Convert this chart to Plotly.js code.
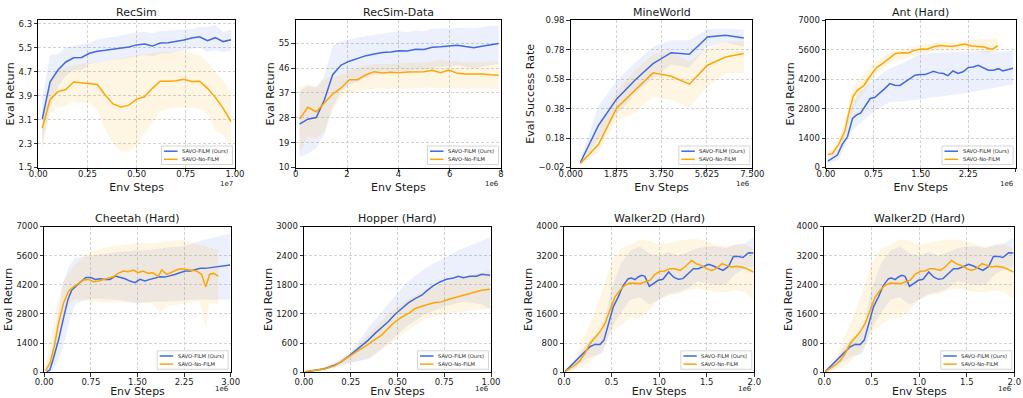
<!DOCTYPE html>
<html><head><meta charset="utf-8">
<script src="https://cdn.plot.ly/plotly-3.0.1.min.js"></script>
<style>html,body{margin:0;padding:0;background:#fff;overflow:hidden}#chart{width:1023px;height:398px}</style>
</head><body><div id="chart"></div>
<script>
// ---------------- DATA (x in units shown on the axis, offset label 1e7 / 1e6) ----------------
const seriesNames = ['SAVO-FILM (Ours)', 'SAVO-No-FILM'];

// RecSim (x ×1e7)
const rsX        = [0.02,0.06,0.10,0.14,0.18,0.22,0.26,0.30,0.34,0.38,0.42,0.46,0.50,0.54,0.58,0.62,0.66,0.70,0.74,0.78,0.82,0.86,0.90,0.94,0.98];
const rsBlue     = [3.11,4.36,4.75,5.02,5.16,5.17,5.31,5.38,5.41,5.45,5.48,5.52,5.59,5.62,5.55,5.65,5.66,5.70,5.75,5.82,5.86,5.73,5.83,5.70,5.76];
const rsBlueHi   = [3.86,5.25,5.28,5.50,5.56,5.60,5.66,5.77,5.82,5.86,5.92,5.96,6.00,6.03,5.98,6.05,6.06,6.08,6.10,6.12,6.18,6.19,6.25,6.02,6.10];
const rsBlueLo   = [2.30,3.50,4.20,4.55,4.75,4.75,4.95,5.00,5.05,5.10,5.12,5.15,5.20,5.25,5.20,5.30,5.30,5.35,5.40,5.45,5.50,5.35,5.42,5.35,5.40];
const rsOrange   = [2.81,3.77,4.03,4.10,4.35,4.33,4.30,4.27,3.92,3.62,3.52,3.58,3.78,3.86,4.14,4.38,4.38,4.39,4.44,4.37,4.38,4.14,3.84,3.47,3.03];
const rsOrangeHi = [3.40,4.30,4.70,4.85,4.92,4.95,4.98,5.00,5.05,5.10,5.15,5.20,5.25,5.28,5.30,5.35,5.35,5.35,5.37,5.30,5.25,5.00,4.70,4.40,4.00];
const rsOrangeLo = [2.10,3.30,3.50,3.55,3.70,3.65,3.65,3.40,2.75,2.30,2.03,2.03,2.25,2.65,3.00,3.40,3.45,3.50,3.50,3.50,3.45,3.30,2.75,2.60,2.15];

// RecSim-Data (x ×1e6)
const rdX        = [0.15,0.47,0.80,1.12,1.44,1.77,2.09,2.41,2.74,3.06,3.38,3.71,4.03,4.35,4.68,5.00,5.32,5.65,5.97,6.29,6.62,6.94,7.26,7.59,7.91];
const rdBlue     = [25.7,27.5,28.1,34.5,43.6,47.1,48.5,49.4,50.5,51.1,51.6,51.8,52.3,52.2,52.8,52.7,53.5,53.7,53.9,54.3,53.8,53.4,53.9,54.5,54.9];
const rdBlueHi   = [37.5,39.5,39.0,43.0,54.0,55.8,56.3,57.0,57.6,58.1,58.5,58.8,59.3,59.0,59.6,59.3,60.2,60.3,60.4,60.6,60.5,60.3,60.8,61.3,61.4];
const rdBlueLo   = [13.8,15.0,17.0,22.0,32.0,37.5,40.0,41.0,42.5,43.5,44.0,44.5,45.0,45.0,45.5,45.5,46.0,46.5,46.5,47.0,46.5,46.0,46.5,47.0,47.5];
const rdOrange   = [27.5,31.8,30.2,33.3,36.6,38.8,41.8,41.8,43.6,44.7,44.2,44.5,44.3,44.6,44.6,44.7,45.2,44.3,45.3,44.1,43.9,44.0,43.9,43.6,43.4];
const rdOrangeHi = [39.0,40.5,39.0,42.0,42.5,43.5,45.0,46.0,47.0,47.5,47.5,47.5,47.8,48.0,48.0,48.0,48.5,49.0,48.5,48.5,48.0,48.0,48.2,48.3,48.5];
const rdOrangeLo = [15.0,21.0,20.5,23.0,31.0,35.5,37.0,37.5,38.0,38.5,38.5,38.5,38.5,38.5,38.8,39.0,39.0,38.5,39.0,38.5,38.5,38.5,38.5,38.5,38.5];

// MineWorld (x ×1e6)
const mwX        = [0.40,1.15,1.90,2.65,3.40,4.15,4.90,5.65,6.40,7.15];
const mwBlue     = [0.014,0.267,0.446,0.573,0.686,0.760,0.749,0.867,0.878,0.860];
const mwBlueHi   = [0.030,0.400,0.570,0.690,0.800,0.845,0.845,0.920,0.925,0.915];
const mwBlueLo   = [0.000,0.170,0.340,0.480,0.590,0.680,0.660,0.800,0.830,0.800];
const mwOrange   = [0.007,0.138,0.385,0.505,0.623,0.600,0.546,0.675,0.731,0.754];
const mwOrangeHi = [0.020,0.240,0.500,0.640,0.750,0.770,0.700,0.790,0.835,0.840];
const mwOrangeLo = [-0.005,0.080,0.300,0.350,0.460,0.440,0.390,0.530,0.620,0.620];

// Ant (Hard) (x ×1e6)
const antBlueX    = [0.03,0.10,0.18,0.26,0.34,0.42,0.48,0.55,0.62,0.70,0.77,0.85,0.93,1.01,1.09,1.17,1.25,1.33,1.41,1.49,1.57,1.64,1.70,1.78,1.86,1.93,2.01,2.09,2.17,2.25,2.33,2.41,2.49,2.57,2.65,2.73,2.80,2.88,2.96];
const antBlue     = [300,430,590,1110,1460,2330,2490,2600,2910,3280,3330,3520,3750,3990,3910,3900,4070,4200,4390,4420,4420,4500,4580,4500,4470,4370,4590,4470,4550,4750,4780,4860,4740,4630,4630,4700,4590,4660,4720];
const antBlueBandX = [0.03,0.20,0.40,0.50,0.75,1.00,1.25,1.50,1.75,2.00,2.25,2.50,2.75,2.96];
const antBlueHi    = [400,900,2800,3500,4150,4700,5000,5400,5450,5500,5500,5550,5500,5550];
const antBlueLo    = [200,350,1700,2000,2650,3100,3150,3250,3350,3450,3550,3700,3850,3950];
const antOrangeX  = [0.03,0.10,0.20,0.30,0.35,0.40,0.43,0.50,0.60,0.70,0.80,0.90,1.00,1.10,1.20,1.30,1.40,1.50,1.60,1.70,1.80,1.90,2.00,2.10,2.20,2.30,2.40,2.50,2.60,2.65,2.72];
const antOrange   = [620,660,1100,1750,2450,3000,3400,3680,3900,4350,4750,4950,5180,5420,5460,5450,5570,5640,5620,5740,5800,5780,5760,5810,5870,5780,5770,5730,5640,5650,5800];
const antOrangeBandX = [0.03,0.10,0.20,0.30,0.40,0.50,0.60,0.75,1.00,1.25,1.50,1.75,2.00,2.25,2.50,2.72];
const antOrangeHi    = [800,850,1350,2100,3600,4150,4400,4950,5450,5650,5850,5950,5950,6050,6100,6150];
const antOrangeLo    = [480,500,850,1400,2500,3200,3500,4350,4950,5200,5400,5550,5550,5600,5450,5550];

// Cheetah (Hard) (x ×1e6)
const chBlueX    = [0.04,0.09,0.14,0.23,0.31,0.38,0.44,0.52,0.60,0.67,0.75,0.82,0.90,0.98,1.06,1.14,1.22,1.30,1.38,1.46,1.54,1.62,1.70,1.78,1.86,1.94,2.02,2.10,2.18,2.27,2.35,2.43,2.51,2.59,2.67,2.75,2.83,2.91,2.99];
const chBlue     = [30,110,600,1560,2610,3490,3940,4170,4380,4550,4550,4460,4490,4460,4460,4620,4570,4490,4380,4300,4460,4380,4460,4540,4590,4570,4620,4700,4780,4860,4860,4940,4990,4990,5020,5050,5100,5130,5150];
const chBlueBandX = [0.04,0.10,0.20,0.30,0.40,0.50,0.75,1.00,1.25,1.50,1.75,2.00,2.25,2.50,2.75,2.99];
const chBlueHi    = [150,600,2400,4300,5100,5500,5600,5700,5800,5850,5900,6000,6050,6300,6500,6650];
const chBlueLo    = [0,0,400,1200,2400,3300,3550,3500,3450,3300,3400,3400,3450,3500,3500,3500];
const chOrangeX  = [0.02,0.09,0.16,0.23,0.31,0.39,0.47,0.55,0.63,0.71,0.79,0.87,0.95,1.03,1.11,1.19,1.27,1.35,1.43,1.51,1.59,1.67,1.75,1.83,1.89,1.97,2.05,2.13,2.21,2.29,2.37,2.45,2.53,2.60,2.66,2.72,2.80];
const chOrange   = [80,440,1240,2370,3330,3890,4100,4250,4430,4460,4350,4380,4460,4540,4590,4750,4860,4830,4910,4780,4860,4750,4780,4590,4910,4700,4810,4910,4970,4940,4910,4860,4700,4100,4700,4750,4620];
const chOrangeBandX = [0.02,0.10,0.20,0.30,0.40,0.50,0.75,1.00,1.25,1.50,1.75,1.85,2.00,2.25,2.50,2.60,2.65,2.80];
const chOrangeHi    = [250,1500,3200,4300,4800,5200,5800,6000,6100,6200,6200,6250,6300,6350,6100,6050,6000,5900];
const chOrangeLo    = [0,100,1300,2600,3300,3500,3400,3350,3350,3350,3300,2900,3200,3300,3400,2100,3300,3300];

// Hopper (Hard) (x ×1e6)
const hpBlueX   = [0.005,0.06,0.11,0.166,0.20,0.237,0.27,0.31,0.344,0.38,0.415,0.45,0.487,0.52,0.558,0.594,0.63,0.656,0.69,0.727,0.763,0.80,0.825,0.852,0.888,0.923,0.95,0.995];
const hpBlue    = [7,41,75,150,219,321,424,560,663,800,916,1039,1196,1312,1428,1517,1586,1675,1777,1859,1914,1941,1975,1948,1975,1975,2016,1996];
const hpOrangeX = [0.005,0.06,0.11,0.166,0.20,0.237,0.27,0.31,0.344,0.38,0.415,0.45,0.487,0.52,0.558,0.594,0.63,0.665,0.70,0.736,0.77,0.807,0.843,0.88,0.914,0.95,0.995];
const hpOrange  = [14,41,68,137,219,321,390,492,581,677,766,902,1039,1128,1210,1312,1360,1401,1435,1449,1497,1538,1565,1606,1654,1688,1709];
const hpBandX    = [0.005,0.10,0.166,0.25,0.35,0.45,0.55,0.65,0.75,0.85,0.95,0.995];
const hpBlueHi   = [30,100,200,420,950,1400,1850,2150,2350,2550,2700,2780];
const hpBlueLo   = [0,40,110,190,280,600,950,1200,1350,1450,1400,1300];
const hpOrangeHi = [25,90,180,400,800,1200,1500,1700,1850,1950,2050,2100];
const hpOrangeLo = [5,50,100,200,300,550,850,1100,1200,1250,1300,1300];

// Walker2D (Hard) (x ×1e6)
const wkBlueX   = [0.01,0.063,0.115,0.168,0.22,0.273,0.326,0.378,0.42,0.466,0.518,0.57,0.623,0.676,0.71,0.746,0.78,0.816,0.85,0.897,0.94,0.99,1.04,1.10,1.15,1.20,1.25,1.31,1.36,1.41,1.46,1.52,1.57,1.62,1.67,1.73,1.78,1.83,1.88,1.94,1.99];
const wkBlue    = [18,155,292,428,565,702,765,765,884,1340,1795,2068,2387,2569,2588,2542,2615,2661,2633,2360,2433,2524,2551,2752,2615,2551,2570,2724,2843,2843,2906,2961,2916,2861,2797,2906,3180,3180,3150,3280,3271];
const wkOrangeX = [0.01,0.063,0.115,0.168,0.22,0.273,0.326,0.378,0.43,0.483,0.536,0.588,0.64,0.693,0.746,0.80,0.85,0.904,0.956,1.01,1.06,1.11,1.16,1.22,1.27,1.34,1.39,1.44,1.50,1.55,1.60,1.66,1.71,1.76,1.81,1.87,1.92,1.99];
const wkOrange  = [18,100,200,319,519,793,948,1112,1340,1704,2068,2250,2387,2451,2433,2433,2478,2524,2688,2770,2779,2843,2843,2797,2888,3070,2979,2934,2843,2797,2843,2979,2934,2888,2906,2888,2843,2752];
const wkBandX    = [0.01,0.10,0.20,0.30,0.40,0.50,0.60,0.70,0.80,0.90,1.00,1.10,1.20,1.30,1.40,1.50,1.60,1.70,1.80,1.90,1.99];
const wkBlueHi   = [30,250,650,950,1100,2300,3000,3350,3450,3250,3200,3300,3200,3300,3400,3450,3450,3400,3500,3550,3700];
const wkBlueLo   = [0,80,300,450,500,1200,1650,2000,2050,1850,2000,2150,2200,2300,2500,2450,2400,2400,2700,2850,2900];
const wkOrangeHi = [20,300,900,1500,2200,3000,3400,3500,3650,3600,3500,3550,3600,3650,3650,3600,3500,3450,3500,3500,3400];
const wkOrangeLo = [0,50,150,350,600,1100,1300,1500,1500,1700,2000,2100,2150,2250,2300,2250,2200,2200,2250,2200,2000];

// Tick values
const ticksX01  = [0,0.25,0.5,0.75,1];
const ticksX8   = [0,2,4,6,8];
const ticksX75  = [0,1.875,3.75,5.625,7.5];
const ticksX3   = [0,0.75,1.5,2.25,3];
const ticksX2   = [0,0.5,1,1.5,2];
const ticksYrs  = [1.5,2.3,3.1,3.9,4.7,5.5,6.3];
const ticksYrd  = [10,19,28,37,46,55];
const ticksYmw  = [-0.02,0.18,0.38,0.58,0.78,0.98];
const ticksY7k  = [0,1400,2800,4200,5600,7000];
const ticksY3k  = [0,600,1200,1800,2400,3000];
const ticksY4k  = [0,800,1600,2400,3200,4000];

// ---------------- LAYOUT CONFIG ----------------
const W = 1023, H = 398;
const FONT = 'DejaVu Sans, Liberation Sans, sans-serif';
const BLUE = '#4169E1', ORANGE = '#FFA500';
const BLUE_FILL = 'rgba(65,105,225,0.10)', ORANGE_FILL = 'rgba(255,165,0,0.11)';
const ROWS = [[20.3,167.5],[226.5,372.3]]; // top,bottom px
const ROW_TICKSHIFT = [-5, -2];
const TEXT = '#1a1a1a';

const panels = [
  {title:'RecSim', yl:'Eval Return', exp:'1e7', px:[38.3,235], row:0, xr:[0,1], xt:ticksX01, xf:'.2f', yr:[1.5,6.41], yt:ticksYrs, yf:'.1f',
   b:[rsX,rsBlue,rsX,rsBlueHi,rsBlueLo], o:[rsX,rsOrange,rsX,rsOrangeHi,rsOrangeLo]},
  {title:'RecSim-Data', yl:'Eval Return', exp:'1e6', px:[295.7,501], row:0, xr:[0,8], xt:ticksX8, xf:'d', yr:[10,63.3], yt:ticksYrd, yf:'d',
   b:[rdX,rdBlue,rdX,rdBlueHi,rdBlueLo], o:[rdX,rdOrange,rdX,rdOrangeHi,rdOrangeLo]},
  {title:'MineWorld', yl:'Eval Success Rate', exp:'1e6', px:[570.7,752.3], row:0, xr:[0,7.5], xt:ticksX75, xf:'.3f', yr:[-0.02,0.98], yt:ticksYmw, yf:'.2f',
   b:[mwX,mwBlue,mwX,mwBlueHi,mwBlueLo], o:[mwX,mwOrange,mwX,mwOrangeHi,mwOrangeLo]},
  {title:'Ant (Hard)', yl:'Eval Return', exp:'1e6', px:[826,1015.5], row:0, xr:[0,3], xt:ticksX3, xf:'.2f', yr:[0,7000], yt:ticksY7k, yf:'d',
   b:[antBlueX,antBlue,antBlueBandX,antBlueHi,antBlueLo], o:[antOrangeX,antOrange,antOrangeBandX,antOrangeHi,antOrangeLo]},
  {title:'Cheetah (Hard)', yl:'Eval Return', exp:'1e6', px:[44.3,230.7], row:1, xr:[0,3], xt:ticksX3, xf:'.2f', yr:[0,7000], yt:ticksY7k, yf:'d',
   b:[chBlueX,chBlue,chBlueBandX,chBlueHi,chBlueLo], o:[chOrangeX,chOrange,chOrangeBandX,chOrangeHi,chOrangeLo]},
  {title:'Hopper (Hard)', yl:'Eval Return', exp:'1e6', px:[304,491], row:1, xr:[0,1], xt:ticksX01, xf:'.2f', yr:[0,3000], yt:ticksY3k, yf:'d',
   b:[hpBlueX,hpBlue,hpBandX,hpBlueHi,hpBlueLo], o:[hpOrangeX,hpOrange,hpBandX,hpOrangeHi,hpOrangeLo]},
  {title:'Walker2D (Hard)', yl:'Eval Return', exp:'1e6', px:[564,754.3], row:1, xr:[0,2], xt:ticksX2, xf:'.1f', yr:[0,4000], yt:ticksY4k, yf:'d',
   b:[wkBlueX,wkBlue,wkBandX,wkBlueHi,wkBlueLo], o:[wkOrangeX,wkOrange,wkBandX,wkOrangeHi,wkOrangeLo]},
  {title:'Walker2D (Hard)', yl:'Eval Return', exp:'1e6', px:[824.3,1014.3], row:1, xr:[0,2], xt:ticksX2, xf:'.1f', yr:[0,4000], yt:ticksY4k, yf:'d',
   b:[wkBlueX,wkBlue,wkBandX,wkBlueHi,wkBlueLo], o:[wkOrangeX,wkOrange,wkBandX,wkOrangeHi,wkOrangeLo]}
];

const traces = [];
const layout = {
  width:W, height:H, margin:{l:0,r:0,t:0,b:0}, paper_bgcolor:'#fff', plot_bgcolor:'#fff',
  showlegend:false, font:{family:FONT, color:TEXT}, annotations:[], shapes:[]
};
const px2x = p => p / W, px2y = p => 1 - p / H;
const txtFont = (size, color) => ({family:FONT, size:size, color:color || TEXT, weight:'normal'});

panels.forEach((p, i) => {
  const s = i === 0 ? '' : String(i + 1);
  const xa = 'x' + s, ya = 'y' + s;
  const band = (d, fill) => ({
    type:'scatter', mode:'lines', xaxis:xa, yaxis:ya, hoverinfo:'skip', showlegend:false,
    x:d[2].concat(d[2].slice().reverse()), y:d[3].concat(d[4].slice().reverse()),
    fill:'toself', fillcolor:fill, line:{width:0, color:'rgba(0,0,0,0)'}
  });
  const line = (d, col, name) => ({
    type:'scatter', mode:'lines', xaxis:xa, yaxis:ya, name:name, showlegend:false,
    x:d[0], y:d[1], line:{color:col, width:1.5}
  });
  traces.push(band(p.b, BLUE_FILL), band(p.o, ORANGE_FILL), line(p.b, BLUE, seriesNames[0]), line(p.o, ORANGE, seriesNames[1]));

  const [top, bot] = ROWS[p.row];
  const common = {
    showgrid:true, gridcolor:'#c8c8c8', gridwidth:0.8, griddash:'3px,2px', zeroline:false,
    showline:true, linecolor:'#000', linewidth:1, mirror:true,
    ticks:'outside', ticklen:3.5, tickwidth:0.8, tickcolor:'#000',
    tickfont:txtFont(8.5), tickmode:'array', fixedrange:true, automargin:false
  };
  layout['xaxis' + s] = Object.assign({}, common, {
    domain:[px2x(p.px[0]), px2x(p.px[1])], anchor:ya, range:p.xr, tickvals:p.xt, tickformat:p.xf,
    ticklabelstandoff:ROW_TICKSHIFT[p.row],
    title:{text:'Env Steps', font:txtFont(11), standoff:5}
  });
  layout['yaxis' + s] = Object.assign({}, common, {
    domain:[px2y(bot), px2y(top)], anchor:xa, range:p.yr, tickvals:p.yt, tickformat:p.yf,
    title:{text:p.yl, font:txtFont(11), standoff:1}
  });

  const L = p.px[0], R = p.px[1];
  // panel title
  layout.annotations.push({xref:'paper', yref:'paper', x:px2x((L + R) / 2), y:px2y(top - 8), text:p.title,
    showarrow:false, xanchor:'center', yanchor:'middle', font:txtFont(11)});
  // offset label
  layout.annotations.push({xref:'paper', yref:'paper', x:px2x(R), y:px2y(bot + 16.5), text:p.exp,
    showarrow:false, xanchor:'right', yanchor:'middle', font:txtFont(7)});

  // legend box
  const bx1 = R - 2.5, bx0 = bx1 - 71, by1 = bot - 3, by0 = by1 - 18.5;
  layout.shapes.push({type:'rect', xref:'paper', yref:'paper', x0:px2x(bx0), x1:px2x(bx1), y0:px2y(by0), y1:px2y(by1),
    fillcolor:'rgba(255,255,255,0.8)', line:{color:'#cccccc', width:0.8}, layer:'above'});
  [[BLUE, seriesNames[0], 5.2], [ORANGE, seriesNames[1], 13.3]].forEach(([c, t, dy]) => {
    layout.shapes.push({type:'line', xref:'paper', yref:'paper', x0:px2x(bx0 + 2.5), x1:px2x(bx0 + 16),
      y0:px2y(by0 + dy), y1:px2y(by0 + dy), line:{color:c, width:1.5}, layer:'above'});
    layout.annotations.push({xref:'paper', yref:'paper', x:px2x(bx0 + 18.5), y:px2y(by0 + dy), text:t,
      showarrow:false, xanchor:'left', yanchor:'middle', font:txtFont(5.2, '#222')});
  });
});

Plotly.newPlot('chart', traces, layout, {staticPlot:true, displayModeBar:false});
</script>
</body></html>
